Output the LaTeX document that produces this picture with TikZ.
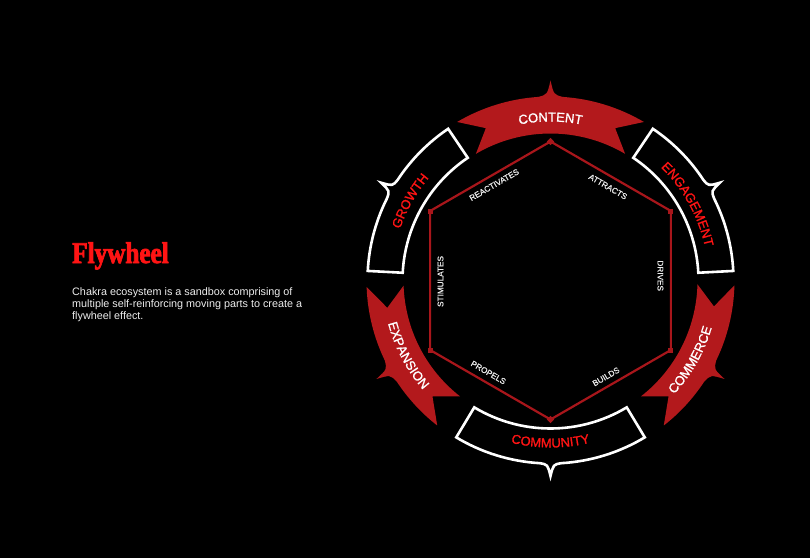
\documentclass[tikz,border=0pt]{standalone}
\usepackage{fontspec}
\setmainfont{Liberation Sans}
\newfontfamily\titlefont{Liberation Serif Bold}[FakeBold=2.5,FakeStretch=0.84]
\newfontfamily\segfont{Liberation Sans}[FakeBold=1.2]
\newfontfamily\edgefont{Liberation Sans}[FakeBold=0.6]
\usetikzlibrary{decorations.text}

\definecolor{ribbonred}{HTML}{B3191C}
\definecolor{hexred}{HTML}{A8161B}
\definecolor{brightred}{HTML}{FF1414}
\definecolor{labelgray}{HTML}{EEEEEE}
\definecolor{bodygray}{HTML}{EDEDED}

\tikzset{
  ribbonfill/.style={fill=ribbonred},
  wseg/.style={draw=white, line width=2.6pt, fill=black, line join=miter},
  hexline/.style={draw=hexred, line width=2.2pt},
  vmark/.style={fill=hexred, minimum size=5pt, inner sep=0pt, rectangle},
  edgelbl/.style={font=\edgefont\fontsize{8.2}{8.2}\selectfont, text=labelgray, inner sep=0pt},
  bodytext/.style={anchor=base west, inner sep=0pt, text=bodygray, font=\fontsize{10.8}{12}\selectfont},
}

% red ribbon: #1 ccw end angle, #2 cw end angle, #3 spike angle
\newcommand\redribbon[3]{%
  \fill[ribbonfill] (#1:184) arc[start angle=#1, end angle={#3+3.8}, radius=184]
    .. controls ({#3+1.0}:186) .. (#3:200)
    .. controls ({#3-1.0}:186) .. ({#3-3.8}:184)
    arc[start angle={#3-3.8}, end angle=#2, radius=184]
    -- ({#2+7.5}:165.5) -- (#2:147)
    arc[start angle=#2, end angle=#1, radius=147]
    -- ({#1-7.5}:165.5) -- cycle;}

% outlined segment: #1 ccw end angle, #2 cw end angle, #3 spike angle
\newcommand\whiteseg[3]{%
  \draw[wseg] (#1:183) arc[start angle=#1, end angle={#3+3.4}, radius=183]
    .. controls ({#3+0.9}:184) .. (#3:195.5)
    .. controls ({#3-0.9}:184) .. ({#3-3.4}:183)
    arc[start angle={#3-3.4}, end angle=#2, radius=183]
    -- (#2:148) arc[start angle=#2, end angle=#1, radius=148] -- cycle;}

% curved label: #1 colour, #2 radius, #3 start angle, #4 end angle, #5 text
\newcommand\arclabel[5]{%
  \path[decorate, decoration={text along path, text align=center, text color=#1,
      text={|\segfont\fontsize{13}{13}\selectfont|#5}}]
    (#3:#2) arc[start angle=#3, end angle=#4, radius=#2];}

\begin{document}
\begin{tikzpicture}[x=1pt, y=1pt]
  \fill[black] (0,0) rectangle (810,558);
  \useasboundingbox (0,0) rectangle (810,558);

  % heading and description
  \node[anchor=base west, inner sep=0pt, text=brightred, font=\titlefont\fontsize{30}{30}\selectfont] (title) at (72,295) {Flywheel};
  \node[bodytext] (desc1) at (72,262.3) {Chakra ecosystem is a sandbox comprising of};
  \node[bodytext] (desc2) at (72,250.4) {multiple self-reinforcing moving parts to create a};
  \node[bodytext] (desc3) at (72,238.5) {flywheel effect.};

  \begin{scope}[shift={(550.5,277.5)}]
    % ring segments
    \redribbon{120.5}{59.5}{90}
    \redribbon{-1.5}{-52}{-29.5}
    \redribbon{232}{182}{209.5}
    \whiteseg{56}{3}{30}
    \whiteseg{-59}{-121}{-90}
    \whiteseg{177}{124}{150}

    % ring labels
    \arclabel{white}{159}{115}{65}{CONTENT}
    \arclabel{brightred}{158}{54}{4}{ENGAGEMENT}
    \arclabel{brightred}{159}{175.5}{125.5}{GROWTH}
    \arclabel{white}{168}{-54.5}{-4.5}{COMMERCE}
    \arclabel{brightred}{167}{-115}{-65}{COMMUNITY}
    \arclabel{white}{168}{182.7}{232.7}{EXPANSION}

    % hexagon
    \coordinate (v1) at (90:139);
    \coordinate (v2) at (30:139);
    \coordinate (v3) at (-30:139);
    \coordinate (v4) at (-90:139);
    \coordinate (v5) at (-150:139);
    \coordinate (v6) at (150:139);
    \draw[hexline] (v1) -- (v2) -- (v3) -- (v4) -- (v5) -- (v6) -- cycle;
    \node[vmark, rotate=45] (m1) at (v1) {};
    \node[vmark] (m2) at (v2) {};
    \node[vmark] (m3) at (v3) {};
    \node[vmark, rotate=45] (m4) at (v4) {};
    \node[vmark] (m5) at (v5) {};
    \node[vmark] (m6) at (v6) {};

    % edge labels
    \node[edgelbl, rotate=-30] (l1) at (58.5:110) {ATTRACTS};
    \node[edgelbl, rotate=-90] (l2) at (2.5:110) {DRIVES};
    \node[edgelbl, rotate=30] (l3) at (-60:111) {BUILDS};
    \node[edgelbl, rotate=-30] (l4) at (-124:111) {PROPELS};
    \node[edgelbl, rotate=90] (l5) at (180.5:110) {STIMULATES};
    \node[edgelbl, rotate=30] (l6) at (120.5:111) {REACTIVATES};
  \end{scope}
\end{tikzpicture}
\end{document}
